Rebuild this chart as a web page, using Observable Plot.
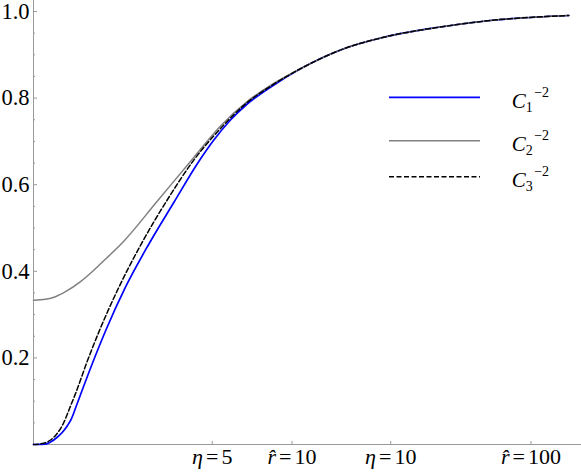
<!DOCTYPE html>
<html><head><meta charset="utf-8">
<script src="https://cdn.jsdelivr.net/npm/d3@7"></script>
<script src="https://cdn.jsdelivr.net/npm/@observablehq/plot@0.6"></script>
<style>
body{margin:0;background:#fff}
svg text, svg tspan { font-family: "Liberation Serif", "Times New Roman", serif; }
</style>
</head><body><div id="chart"></div>
<script>
// r̂ values (x) and curve values (y)
// C1^-2 (blue, solid)
const c1R = [0, 0.118, 0.171, 0.250, 0.321, 0.371, 0.423, 0.490, 0.561, 0.745, 0.968, 1.326, 1.906, 2.675, 3.634, 4.329, 5.219, 6.261, 8.012, 10.90, 16.79, 24.78, 41.96, 68.39, 142.5];
const c1V = [0, 0.0009, 0.0058, 0.0173, 0.0312, 0.0439, 0.0600, 0.0901, 0.1212, 0.1940, 0.2674, 0.3589, 0.4614, 0.5589, 0.6536, 0.7032, 0.7494, 0.7864, 0.8252, 0.8677, 0.9139, 0.9406, 0.9637, 0.9792, 0.9908];
// C2^-2 (gray, solid)
const c2R = [0, 0.118, 0.226, 0.346, 0.547, 0.724, 0.987, 1.311, 2.151, 3.424, 4.669, 6.261, 8.012, 10.90, 16.79, 24.78, 41.96, 68.39, 142.5];
const c2V = [0.3333, 0.3356, 0.3414, 0.3529, 0.3760, 0.3991, 0.4326, 0.4696, 0.5617, 0.6630, 0.7356, 0.7921, 0.8291, 0.8677, 0.9139, 0.9406, 0.9637, 0.9792, 0.9908];
// C3^-2 (black, dashed)
const c3R = [0, 0.067, 0.118, 0.171, 0.250, 0.325, 0.397, 0.477, 0.651, 0.837, 1.160, 1.698, 2.457, 3.424, 4.669, 6.261, 8.012, 10.90, 16.79, 24.78, 41.96, 68.39, 142.5];
const c3V = [0, 0.0014, 0.0042, 0.0104, 0.0266, 0.0508, 0.0831, 0.1178, 0.1940, 0.2610, 0.3517, 0.4598, 0.5647, 0.6568, 0.7298, 0.7898, 0.8273, 0.8677, 0.9139, 0.9406, 0.9637, 0.9792, 0.9908];

const seriesSubs = ["1", "2", "3"];
const seriesColors = ["#0000ff", "#808080", "#000000"];
const seriesWidths = [1.7, 1.5, 1.5];
const seriesDash = [null, null, "5,2.5"];

const xTickValues = [4.25, 10, 26.5, 100];
const xTickVars = ["\u03B7", "r\u0302", "\u03B7", "r\u0302"];
const xTickNums = ["5", "10", "10", "100"];
const yMajor = [0.2, 0.4, 0.6, 0.8, 1.0];
const yMinor = [0.05, 0.1, 0.15, 0.25, 0.3, 0.35, 0.45, 0.5, 0.55, 0.65, 0.7, 0.75, 0.85, 0.9, 0.95];

const toRows = (R, V) => R.map((r, i) => ({r, v: V[i]}));
const series = [toRows(c1R, c1V), toRows(c2R, c2V), toRows(c3R, c3V)];

const FONT = '"Liberation Serif", "Times New Roman", serif';
const axisColor = "#9a9a9a";

const plot = Plot.plot({
  width: 581, height: 474,
  marginLeft: 33, marginRight: 0, marginTop: 0, marginBottom: 30,
  style: {fontFamily: FONT, fontSize: "21px", background: "#fff", color: "#000"},
  x: {type: "symlog", constant: 1, domain: [0, 160.4], axis: null},
  y: {domain: [0, 1.0254], axis: null},
  marks: [
    Plot.ruleY([0], {stroke: axisColor, strokeWidth: 1}),
    Plot.ruleX([0], {stroke: axisColor, strokeWidth: 1}),
    Plot.axisY({ticks: yMinor, tickSize: 2, dx: 2, tickFormat: () => "", label: null, stroke: axisColor}),
    Plot.axisY({ticks: yMajor, tickSize: 4, dx: 4, tickPadding: 4, tickFormat: d => d.toFixed(1), label: null, stroke: axisColor, fill: "#000"}),
    Plot.axisX({ticks: xTickValues, tickSize: 3, dy: -3, tickPadding: 4, tickFormat: (d, i) => xTickVars[i] + "=" + xTickNums[i], label: null, stroke: axisColor, fill: "#000"}),
    Plot.line(series[0], {x: "r", y: "v", stroke: seriesColors[0], strokeWidth: seriesWidths[0], curve: "monotone-x"}),
    Plot.line(series[1], {x: "r", y: "v", stroke: seriesColors[1], strokeWidth: seriesWidths[1], curve: "monotone-x"}),
    Plot.line(series[2], {x: "r", y: "v", stroke: seriesColors[2], strokeWidth: seriesWidths[2], strokeDasharray: seriesDash[2], curve: "monotone-x"})
  ]
});

document.getElementById("chart").appendChild(plot);
const svg = d3.select(plot);

// tick label sizes
svg.selectAll('g[aria-label="y-axis tick label"] text').style("font-size", "22.5px");
svg.selectAll('g[aria-label="x-axis tick label"] text').style("font-size", "22px");

// rich x tick labels: italic variable, upright "=" and number
svg.selectAll('g[aria-label="x-axis tick label"] text').each(function(d, i) {
  const t = d3.select(this);
  t.text(null);
  t.append("tspan").attr("font-style", "italic").text(xTickVars[i]);
  t.append("tspan").attr("dx", 3).text("=");
  t.append("tspan").attr("dx", 3).text(xTickNums[i]);
});

// legend
const legendY = [97.3, 140.7, 176.7];
const lg = svg.append("g").attr("font-family", FONT).attr("text-anchor", "start");
seriesSubs.forEach((s, i) => {
  const y = legendY[i];
  lg.append("line").attr("x1", 389).attr("x2", 480).attr("y1", y).attr("y2", y)
    .attr("stroke", seriesColors[i]).attr("stroke-width", seriesWidths[i])
    .attr("stroke-dasharray", seriesDash[i]);
  const t = lg.append("text").attr("x", 511.7).attr("y", y + 10.5).style("font-size", "21px").attr("fill", "#000");
  t.append("tspan").attr("font-style", "italic").text("C");
  t.append("tspan").style("font-size", "14px").attr("dy", 4).text(s);
  t.append("tspan").style("font-size", "14px").attr("dy", -15).attr("dx", 1.5).text("\u22122");
});
</script>
</body></html>
